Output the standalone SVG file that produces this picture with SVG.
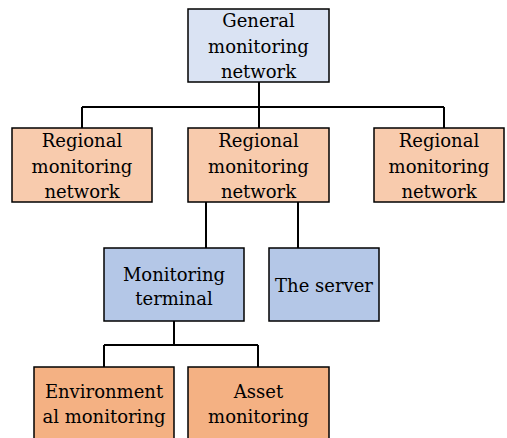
<svg xmlns="http://www.w3.org/2000/svg" width="507" height="438" viewBox="0 0 507 438">
<style>
.box{stroke:#000;stroke-width:1.5}
.t{font-family:'DejaVu Serif',serif;font-size:18px;fill:#000;text-anchor:middle}
.c{fill:none;stroke:#000;stroke-width:2}
</style>
<rect width="507" height="438" fill="#fff"/>
<g id="connectors">
<path class="c" d="M259 82V107M82 107H444M82 107V128M259 107V128M444 107V128"/>
<path class="c" d="M206 202V248M298 202V248"/>
<path class="c" d="M174 321V345M104 345H258M104 345V367M258 345V367"/>
</g>
<g id="general">
<rect class="box" x="188" y="9" width="141" height="73" fill="#dae3f3"/>
<text class="t" x="258.5" y="27">General</text>
<text class="t" x="258.5" y="53">monitoring</text>
<text class="t" x="258.5" y="78">network</text>
</g>
<g id="regional1">
<rect class="box" x="12" y="128" width="140" height="74" fill="#f8cbad"/>
<text class="t" x="82" y="147">Regional</text>
<text class="t" x="82" y="173">monitoring</text>
<text class="t" x="82" y="198">network</text>
</g>
<g id="regional2">
<rect class="box" x="188" y="128" width="141" height="74" fill="#f8cbad"/>
<text class="t" x="258.5" y="147">Regional</text>
<text class="t" x="258.5" y="173">monitoring</text>
<text class="t" x="258.5" y="198">network</text>
</g>
<g id="regional3">
<rect class="box" x="374" y="128" width="130" height="74" fill="#f8cbad"/>
<text class="t" x="439" y="147">Regional</text>
<text class="t" x="439" y="173">monitoring</text>
<text class="t" x="439" y="198">network</text>
</g>
<g id="terminal">
<rect class="box" x="104" y="248" width="140" height="73" fill="#b4c7e7"/>
<text class="t" x="174" y="280.5">Monitoring</text>
<text class="t" x="174" y="305">terminal</text>
</g>
<g id="server">
<rect class="box" x="269" y="248" width="110" height="73" fill="#b4c7e7"/>
<text class="t" x="324" y="291.5">The server</text>
</g>
<g id="environmental">
<rect class="box" x="34" y="367" width="140" height="78" fill="#f4b183"/>
<text class="t" x="104" y="398">Environment</text>
<text class="t" x="104" y="422.5">al monitoring</text>
</g>
<g id="asset">
<rect class="box" x="188" y="367" width="141" height="78" fill="#f4b183"/>
<text class="t" x="258.5" y="398">Asset</text>
<text class="t" x="258.5" y="422.5">monitoring</text>
</g>
</svg>
